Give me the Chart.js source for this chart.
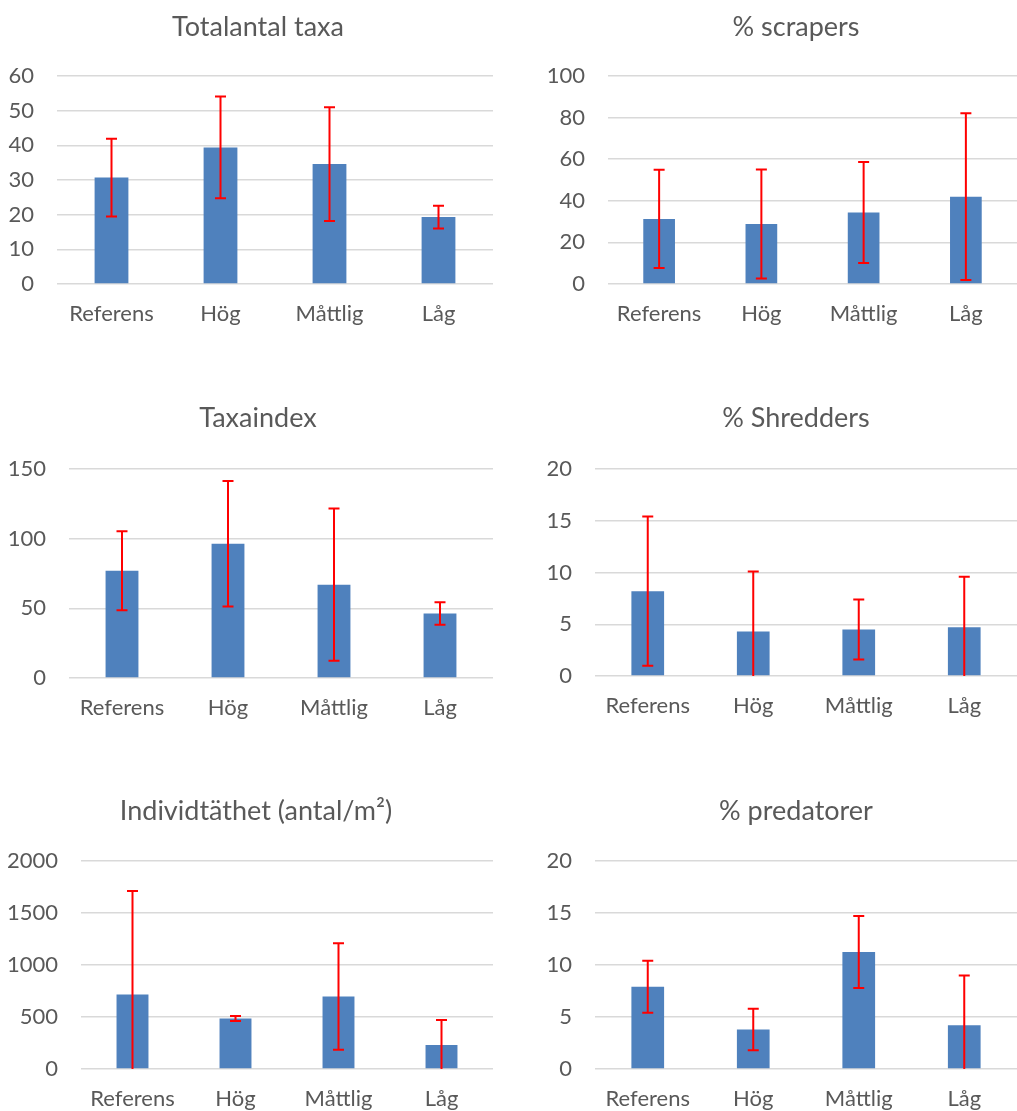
<!DOCTYPE html>
<html>
<head>
<meta charset="utf-8">
<script src="https://cdn.jsdelivr.net/npm/chart.js@4.4.0/dist/chart.umd.min.js"></script>
<style>
  body { margin: 0; background: #fff; overflow: hidden; }
  canvas { position: absolute; }
</style>
</head>
<body>
<canvas id="c1"></canvas>
<canvas id="c2"></canvas>
<canvas id="c3"></canvas>
<canvas id="c4"></canvas>
<canvas id="c5"></canvas>
<canvas id="c6"></canvas>
<script>
// categories shared by all six charts
const categories = ['Referens', 'Hög', 'Måttlig', 'Låg'];

// means and standard deviations
const taxaMean = [30.7, 39.4, 34.6, 19.3];
const taxaSd = [11.2, 14.7, 16.4, 3.3];

const scrapersMean = [31.3, 28.8, 34.4, 42.0];
const scrapersSd = [23.6, 26.2, 24.3, 40.1];

const taxaindexMean = [77.0, 96.3, 67.0, 46.3];
const taxaindexSd = [28.4, 45.0, 54.7, 8.0];

const shreddersMean = [8.2, 4.3, 4.5, 4.7];
const shreddersSd = [7.2, 5.8, 2.9, 4.9];

const densityMean = [716, 485, 698, 231];
const densitySd = [995, 24, 512, 241];

const predatorMean = [7.9, 3.8, 11.25, 4.2];
const predatorSd = [2.5, 2.0, 3.45, 4.8];

const titleSize = 27;
const tickSize = 22;
const textColor = '#595959';
const fontFamily = 'Lato, "Open Sans", sans-serif';

// red error bars drawn through the y scale
const errorBars = {
  id: 'errorBars',
  afterDatasetsDraw(chart, args, opts) {
    const sd = opts.sd;
    if (!sd) return;
    const meta = chart.getDatasetMeta(0);
    const y = chart.scales.y;
    const ctx = chart.ctx;
    const area = chart.chartArea;
    ctx.save();
    ctx.beginPath();
    ctx.rect(area.left, area.top - 20, area.right - area.left, area.bottom - area.top + 20);
    ctx.clip();
    ctx.strokeStyle = '#ff0000';
    ctx.lineWidth = 2;
    meta.data.forEach((bar, i) => {
      const v = chart.data.datasets[0].data[i];
      const top = y.getPixelForValue(v + sd[i]);
      const bot = y.getPixelForValue(v - sd[i]);
      ctx.beginPath();
      ctx.moveTo(bar.x, top); ctx.lineTo(bar.x, bot);
      ctx.moveTo(bar.x - 5.5, top); ctx.lineTo(bar.x + 5.5, top);
      ctx.moveTo(bar.x - 5.5, bot); ctx.lineTo(bar.x + 5.5, bot);
      ctx.stroke();
    });
    ctx.restore();
  }
};

// move the title so it is centred where the reference has it
const titleShift = {
  id: 'titleShift',
  afterLayout(chart, args, opts) {
    const tb = chart.titleBlock;
    if (!tb || opts.center == null) return;
    const half = (tb.right - tb.left) / 2;
    tb.left = opts.center - half;
    tb.right = opts.center + half;
  }
};

function makeChart(id, title, means, sds, max, step, box) {
  const canvas = document.getElementById(id);
  const xh = 56;
  canvas.style.left = box.left + 'px';
  canvas.style.top = box.top + 'px';
  canvas.width = box.width;
  canvas.height = box.plotBottom - box.top + xh;

  return new Chart(canvas.getContext('2d'), {
    type: 'bar',
    data: {
      labels: categories,
      datasets: [{
        data: means,
        backgroundColor: '#4f81bd',
        barPercentage: 0.31,
        categoryPercentage: 1
      }]
    },
    plugins: [errorBars, titleShift],
    options: {
      responsive: false,
      animation: false,
      layout: { padding: { left: 0, right: box.padR, top: 0, bottom: 0 } },
      plugins: {
        legend: { display: false },
        tooltip: { enabled: false },
        title: {
          display: true,
          text: title,
          color: textColor,
          font: { family: fontFamily, size: titleSize, weight: 'normal' },
          padding: {
            top: box.titleY - box.top - 0.6 * titleSize,
            bottom: box.plotTop - box.titleY - 0.6 * titleSize
          }
        },
        titleShift: { center: box.titleX - box.left },
        errorBars: { sd: sds }
      },
      scales: {
        x: {
          grid: { display: false, drawTicks: false },
          border: { display: false },
          ticks: { color: textColor, font: { family: fontFamily, size: tickSize }, padding: 17 },
          afterFit(scale) { scale.height = xh; }
        },
        y: {
          min: 0,
          max: max,
          grid: { color: '#d9d9d9', lineWidth: 1.5, drawTicks: false },
          border: { display: false },
          ticks: {
            stepSize: step,
            color: textColor,
            font: { family: fontFamily, size: tickSize },
            padding: 23,
            callback: (v) => String(v)
          },
          afterFit(scale) { scale.width = box.plotLeft - box.left; }
        }
      }
    }
  });
}

makeChart('c1', 'Totalantal taxa', taxaMean, taxaSd, 60, 10,
  { left: 0, top: 0, width: 508, padR: 15, plotLeft: 57, titleX: 258, titleY: 27, plotTop: 76, plotBottom: 284 });
makeChart('c2', '% scrapers', scrapersMean, scrapersSd, 100, 20,
  { left: 508, top: 0, width: 509, padR: 0, plotLeft: 608, titleX: 796, titleY: 27, plotTop: 76, plotBottom: 284 });
makeChart('c3', 'Taxaindex', taxaindexMean, taxaindexSd, 150, 50,
  { left: 0, top: 385, width: 508, padR: 15, plotLeft: 69, titleX: 258, titleY: 418, plotTop: 469, plotBottom: 678 });
makeChart('c4', '% Shredders', shreddersMean, shreddersSd, 20, 5,
  { left: 508, top: 385, width: 509, padR: 0, plotLeft: 595, titleX: 796, titleY: 418, plotTop: 469, plotBottom: 676 });
makeChart('c5', 'Individtäthet (antal/m²)', densityMean, densitySd, 2000, 500,
  { left: 0, top: 775, width: 508, padR: 15, plotLeft: 81, titleX: 256, titleY: 811, plotTop: 861, plotBottom: 1069 });
makeChart('c6', '% predatorer', predatorMean, predatorSd, 20, 5,
  { left: 508, top: 775, width: 509, padR: 0, plotLeft: 595, titleX: 796, titleY: 811, plotTop: 861, plotBottom: 1069 });
</script>
</body>
</html>
